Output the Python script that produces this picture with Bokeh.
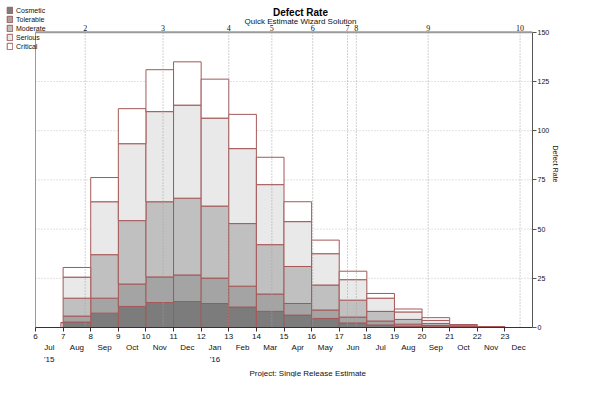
import numpy as np
from bokeh.plotting import figure
from bokeh.models import (LinearAxis, FixedTicker, Legend, LegendItem,
                          Label, Title, ColumnDataSource)
from bokeh.embed import file_html
from bokeh.resources import INLINE

# ---- data ----
bar_left = [6.92, 7, 8, 9, 10, 11, 12, 13, 14, 15, 16, 17, 18, 19, 20, 21, 22]
bar_right = [7, 8, 9, 10, 11, 12, 13, 14, 15, 16, 17, 18, 19, 20, 21, 22, 23]
cosmetic = [0.0, 2.8, 7.3, 10.7, 12.7, 13.2, 12.2, 10.4, 8.2, 6.3, 4.6, 2.3, 1.3, 0.7, 0.4, 0.2, 0.05]
tolerable = [0.0, 3.0, 7.6, 11.4, 13.0, 13.5, 12.9, 10.6, 8.8, 5.9, 4.3, 3.0, 2.0, 1.0, 0.6, 0.2, 0.05]
moderate = [0.0, 9.1, 22.1, 32.2, 38.2, 39.0, 36.6, 31.8, 25.1, 18.8, 12.7, 8.6, 4.9, 2.4, 1.0, 0.3, 0.1]
serious = [2.5, 10.7, 26.9, 39.1, 45.8, 47.3, 44.7, 38.1, 30.5, 22.8, 15.9, 10.4, 6.7, 3.8, 1.6, 0.5, 0.15]
critical = [0.0, 4.9, 12.3, 17.8, 21.3, 22.0, 19.8, 17.4, 13.9, 10.1, 6.9, 4.3, 2.4, 1.5, 1.4, 0.3, 0.05]
categories = ["Cosmetic", "Tolerable", "Moderate", "Serious", "Critical"]
fills = ["#7c7c7c", "#a4a4a4", "#c0c0c0", "#e9e9e9", "#ffffff"]

x_ticks = list(range(6, 24))
month_pos = [6.5 + i for i in range(18)]
month_labels = ["Jul", "Aug", "Sep", "Oct", "Nov", "Dec", "Jan", "Feb", "Mar",
                "Apr", "May", "Jun", "Jul", "Aug", "Sep", "Oct", "Nov", "Dec"]
year_pos = [6.5, 12.5]
year_labels = ["'15", "'16"]
milestone_pos = [7.8, 10.62, 13.0, 14.56, 16.04, 17.3, 17.62, 20.22, 23.55]
milestone_labels = ["2", "3", "4", "5", "6", "7", "8", "9", "10"]
y_ticks = [0, 25, 50, 75, 100, 125, 150]
grid_ticks = [25, 50, 75, 100, 125]

X_MIN, X_MAX = 6, 24
Y_MIN, Y_MAX = 0, 150

FONT = "Liberation Sans"
TXT = "#111111"

# ---- layout (pixels) ----
W, H = 584, 377
FRAME_RIGHT = 532          # pixel where x = X_MAX
FRAME_BOTTOM = 329         # pixel where y = 0
PLOT_LEFT = 35             # pixel where x = X_MIN
PLOT_TOP = 32              # pixel where y = Y_MAX
x_per_px = (X_MAX - X_MIN) / (FRAME_RIGHT - PLOT_LEFT)
y_per_px = (Y_MAX - Y_MIN) / (FRAME_BOTTOM - PLOT_TOP)
x_start = X_MIN - PLOT_LEFT * x_per_px
y_end = Y_MAX + PLOT_TOP * y_per_px

p = figure(width=W, height=H, x_range=(x_start, X_MAX), y_range=(Y_MIN, y_end),
           output_backend="svg", toolbar_location=None,
           x_axis_type=None, y_axis_type=None,
           min_border_left=0, min_border_right=W - FRAME_RIGHT,
           min_border_top=0, min_border_bottom=H - FRAME_BOTTOM)
p.outline_line_color = None
p.background_fill_color = "white"
p.border_fill_color = "white"

# grid lines (dotted) across the plotting area
p.segment(x0=[X_MIN] * len(grid_ticks), y0=grid_ticks,
          x1=[X_MAX] * len(grid_ticks), y1=grid_ticks,
          line_color="#c4c4c4", line_dash="1 2", line_width=1)

# stacked bars
series = [cosmetic, tolerable, moderate, serious, critical]
bottom = np.zeros(len(bar_left))
renderers = []
for name, vals, col in zip(categories, series, fills):
    v = np.array(vals)
    src = ColumnDataSource(dict(left=bar_left, right=bar_right,
                                bottom=bottom.copy(), top=bottom + v))
    r = p.quad(left="left", right="right", bottom="bottom", top="top",
               source=src, fill_color=col, line_color="#a45858", line_width=1)
    renderers.append(r)
    bottom = bottom + v

# milestone dotted lines
p.segment(x0=milestone_pos, y0=[Y_MIN] * len(milestone_pos),
          x1=milestone_pos, y1=[Y_MAX] * len(milestone_pos),
          line_color="#a8a0a0", line_dash="1 2", line_width=1)

# frame: left and top lines
p.segment(x0=[X_MIN], y0=[Y_MIN], x1=[X_MIN], y1=[Y_MAX],
          line_color="#9a9a9a", line_width=1)
p.segment(x0=[X_MIN], y0=[Y_MAX], x1=[X_MAX], y1=[Y_MAX],
          line_color="#9a9a9a", line_width=2)

# milestone labels along the top line
p.text(x=milestone_pos, y=[Y_MAX] * len(milestone_pos), text=milestone_labels,
       text_font=FONT, text_font_size="8px", text_align="center",
       text_baseline="bottom", y_offset=-1, text_color=TXT)

# axes
def style_labels(ax, size="8px"):
    ax.major_label_text_font_size = size
    ax.major_label_text_font = FONT
    ax.major_label_text_color = TXT
    ax.minor_tick_line_color = None
    ax.major_tick_in = 0

ax1 = LinearAxis(ticker=FixedTicker(ticks=x_ticks), bounds=(X_MIN, X_MAX))
style_labels(ax1)
ax1.axis_line_color = "#333333"
ax1.major_tick_line_color = "#333333"
ax1.major_tick_out = 4
ax1.major_label_standoff = 2
p.add_layout(ax1, "below")

ax2 = LinearAxis(ticker=FixedTicker(ticks=month_pos),
                 major_label_overrides={k: v for k, v in zip(month_pos, month_labels)})
style_labels(ax2)
ax2.axis_line_color = None
ax2.major_tick_line_color = None
ax2.major_tick_out = 0
ax2.major_label_standoff = 1
p.add_layout(ax2, "below")

ax3 = LinearAxis(ticker=FixedTicker(ticks=year_pos),
                 major_label_overrides={k: v for k, v in zip(year_pos, year_labels)})
style_labels(ax3)
ax3.axis_line_color = None
ax3.major_tick_line_color = None
ax3.major_tick_out = 0
ax3.major_label_standoff = 0
p.add_layout(ax3, "below")

p.add_layout(Title(text="Project: Single Release Estimate", align="left",
                   offset=249, text_font=FONT, text_font_size="8px",
                   text_font_style="normal", text_color=TXT,
                   standoff=0), "below")

axr = LinearAxis(ticker=FixedTicker(ticks=y_ticks), bounds=(Y_MIN, Y_MAX),
                 axis_label="Defect Rate")
style_labels(axr, "7px")
axr.axis_line_color = "#555555"
axr.major_tick_line_color = "#555555"
axr.major_tick_out = 4
axr.major_label_standoff = 1
axr.axis_label_text_font_size = "7px"
axr.axis_label_text_font = FONT
axr.axis_label_text_font_style = "normal"
axr.axis_label_text_color = TXT
axr.axis_label_standoff = 0
p.add_layout(axr, "right")

# titles (inside the frame area, which spans the full top of the canvas)
p.add_layout(Label(x=300, y=Y_MAX + (PLOT_TOP - 12.5) * y_per_px,
                   x_units="screen", y_units="data",
                   text="Defect Rate", text_font=FONT, text_font_size="10px",
                   text_font_style="bold", text_align="center",
                   text_baseline="middle", text_color="#000000"))
p.add_layout(Label(x=300, y=Y_MAX + (PLOT_TOP - 21.5) * y_per_px,
                   x_units="screen", y_units="data",
                   text="Quick Estimate Wizard Solution", text_font=FONT,
                   text_font_size="8px", text_align="center",
                   text_baseline="middle", text_color=TXT))

# legend (top-left corner)
legend = Legend(items=[LegendItem(label=c, renderers=[r]) for c, r in zip(categories, renderers)],
                location="top_left", orientation="vertical")
legend.glyph_width = 7
legend.glyph_height = 8
legend.label_height = 8
legend.label_standoff = 3
legend.spacing = 1
legend.padding = 0
legend.margin = 6
legend.border_line_color = None
legend.background_fill_alpha = 0
legend.label_text_font = FONT
legend.label_text_font_size = "7px"
legend.label_text_color = TXT
p.add_layout(legend, "center")

open("out.html", "w").write(file_html(p, INLINE))
